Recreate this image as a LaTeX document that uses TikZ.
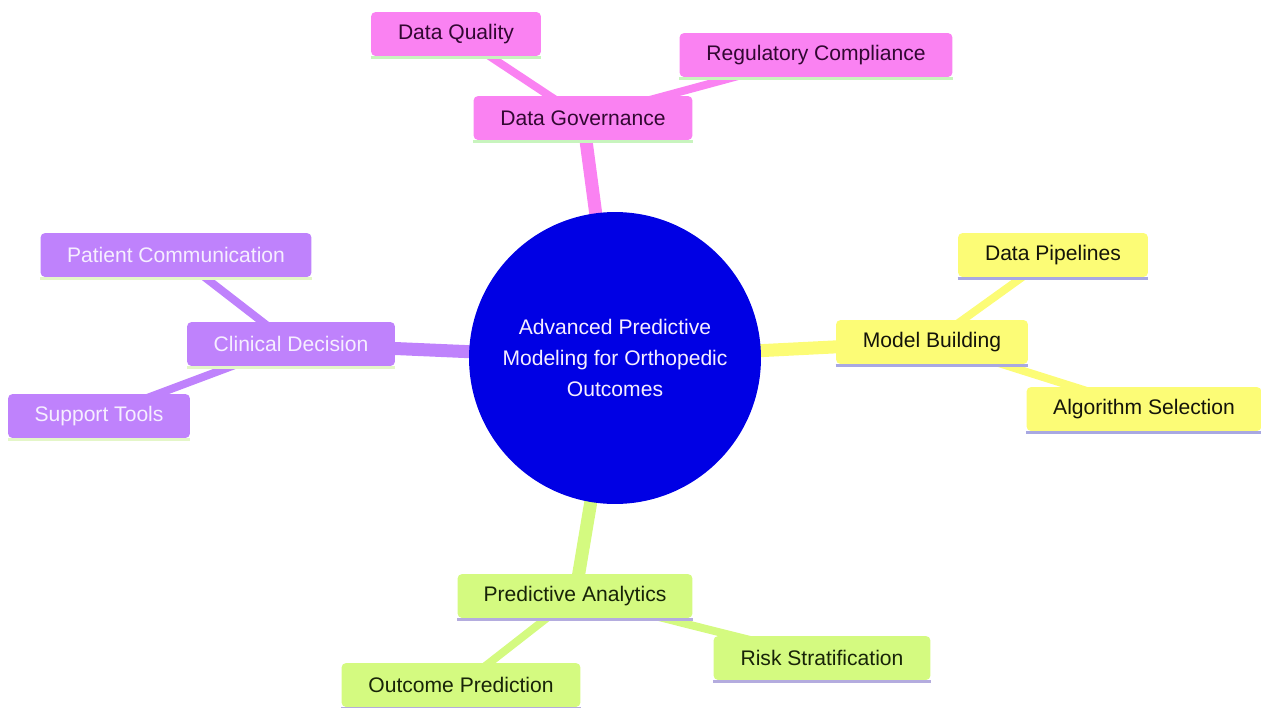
\documentclass[tikz,border=0pt]{standalone}
\usepackage{fontspec}
\setmainfont{Liberation Sans}
\usetikzlibrary{backgrounds}
\definecolor{pinkF}{RGB}{250,130,242}
\definecolor{purpF}{RGB}{191,130,252}
\definecolor{yellF}{RGB}{252,252,118}
\definecolor{greenF}{RGB}{212,250,128}
\definecolor{rootF}{RGB}{0,0,228}
\definecolor{pinkT}{RGB}{50,8,50}
\definecolor{purpT}{RGB}{246,238,255}
\definecolor{yellT}{RGB}{20,20,10}
\definecolor{greenT}{RGB}{24,36,8}
\definecolor{pinkL}{RGB}{200,244,190}
\definecolor{purpL}{RGB}{228,246,200}
\definecolor{yellL}{RGB}{168,168,226}
\definecolor{greenL}{RGB}{180,172,222}
\tikzset{
  x=0.02cm, y=-0.02cm,
  mm/.style={rectangle, rounded corners=2.6pt, minimum height=0.88cm, inner sep=0pt,
    font=\fontsize{12}{14}\selectfont},
  pinkbox/.style={mm, fill=pinkF, text=pinkT},
  purpbox/.style={mm, fill=purpF, text=purpT},
  yellbox/.style={mm, fill=yellF, text=yellT},
  greenbox/.style={mm, fill=greenF, text=greenT},
  rootnode/.style={circle, fill=rootF, minimum size=5.84cm, inner sep=0pt, text=purpT,
    align=center, font=\fontsize{12}{17.9}\selectfont},
  mainedge/.style={line width=7.4pt},
  subedge/.style={line width=4.5pt},
  uline/.style={line width=1.7pt},
}
\begin{document}
\begin{tikzpicture}
\useasboundingbox (0,0) rectangle (1261,707);
\node[rootnode] (root) at (615,358) {Advanced Predictive\\Modeling for Orthopedic\\Outcomes};
% pink
\node[pinkbox, minimum width=4.38cm] (dg) at (583,118) {Data Governance};
\node[pinkbox, minimum width=3.40cm] (dq) at (456,34) {Data Quality};
\node[pinkbox, minimum width=5.46cm] (rc) at (816,55) {Regulatory Compliance};
% purple
\node[purpbox, minimum width=4.16cm] (cd) at (291,344) {Clinical Decision};
\node[purpbox, minimum width=5.42cm] (pc) at (176,255) {Patient Communication};
\node[purpbox, minimum width=3.64cm] (st) at (99,416) {Support Tools};
% yellow
\node[yellbox, minimum width=3.84cm] (mb) at (932,342) {Model Building};
\node[yellbox, minimum width=3.80cm] (dp) at (1053,255) {Data Pipelines};
\node[yellbox, minimum width=4.70cm] (as) at (1144,409) {Algorithm Selection};
% green
\node[greenbox, minimum width=4.70cm] (pa) at (575,596) {Predictive Analytics};
\node[greenbox, minimum width=4.78cm] (op) at (461,685) {Outcome Prediction};
\node[greenbox, minimum width=4.34cm] (rs) at (822,658) {Risk Stratification};
% underlines
\foreach \n/\c in {dg/pinkL,dq/pinkL,rc/pinkL,cd/purpL,pc/purpL,st/purpL,mb/yellL,dp/yellL,as/yellL,pa/greenL,op/greenL,rs/greenL}
  \draw[uline, draw=\c] ([yshift=-0.4pt]\n.south west) -- ([yshift=-0.4pt]\n.south east);
\begin{scope}[on background layer]
  \draw[mainedge, draw=pinkF] (root.center) -- (dg.center);
  \draw[subedge, draw=pinkF] (dg.center) -- (dq.center);
  \draw[subedge, draw=pinkF] (dg.center) -- (rc.center);
  \draw[mainedge, draw=purpF] (root.center) -- (cd.center);
  \draw[subedge, draw=purpF] (cd.center) -- (pc.center);
  \draw[subedge, draw=purpF] (cd.center) -- (st.center);
  \draw[mainedge, draw=yellF] (root.center) -- (mb.center);
  \draw[subedge, draw=yellF] (mb.center) -- (dp.center);
  \draw[subedge, draw=yellF] (mb.center) -- (as.center);
  \draw[mainedge, draw=greenF] (root.center) -- (pa.center);
  \draw[subedge, draw=greenF] (pa.center) -- (op.center);
  \draw[subedge, draw=greenF] (pa.center) -- (rs.center);
\end{scope}
\end{tikzpicture}
\end{document}
